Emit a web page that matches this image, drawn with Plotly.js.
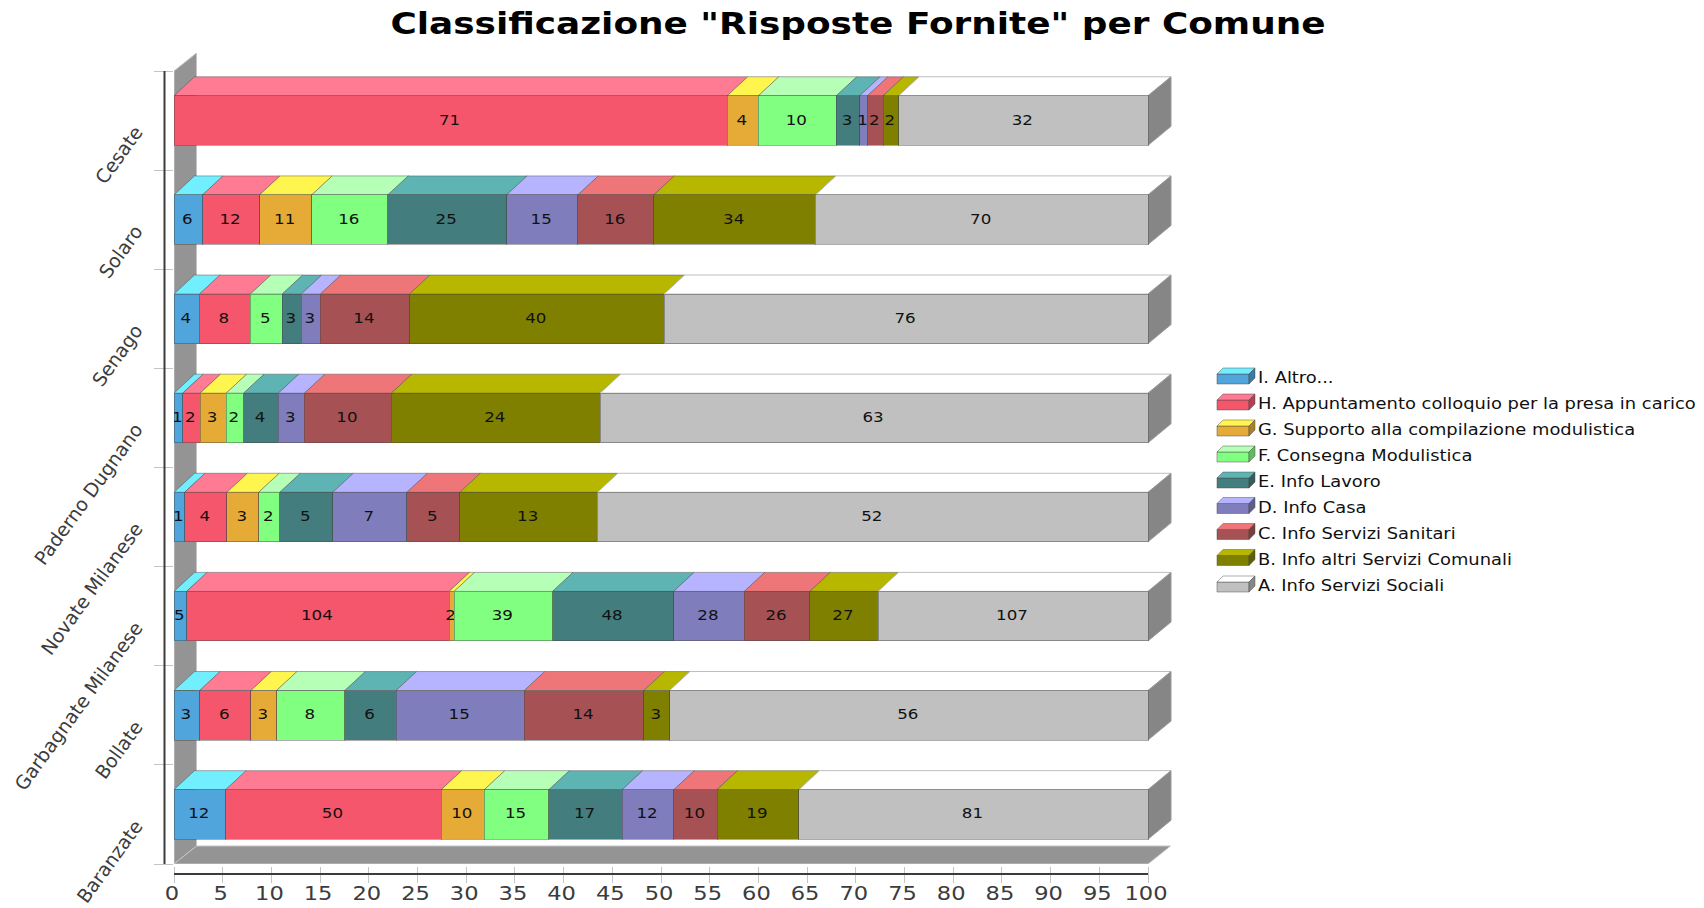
<!DOCTYPE html>
<html><head><meta charset="utf-8">
<script src="https://cdn.plot.ly/plotly-3.0.1.min.js"></script>
<style>html,body{margin:0;padding:0;background:#fff}#c{width:1704px;height:908px}</style>
</head><body><div id="c"></div>
<script>
const categories = ["Baranzate","Bollate","Garbagnate Milanese","Novate Milanese","Paderno Dugnano","Senago","Solaro","Cesate"];
const seriesNames = ["I. Altro...","H. Appuntamento colloquio per la presa in carico","G. Supporto alla compilazione modulistica","F. Consegna Modulistica","E. Info Lavoro","D. Info Casa","C. Info Servizi Sanitari","B. Info altri Servizi Comunali","A. Info Servizi Sociali"];
const altro     = [12, 3,   5, 1, 1, 4, 6, 0];
const colloquio = [50, 6, 104, 4, 2, 8,12,71];
const supporto  = [10, 3,   2, 3, 3, 0,11, 4];
const consegna  = [15, 8,  39, 2, 2, 5,16,10];
const lavoro    = [17, 6,  48, 5, 4, 3,25, 3];
const casa      = [12,15,  28, 7, 3, 3,15, 1];
const sanitari  = [10,14,  26, 5,10,14,16, 2];
const comunali  = [19, 3,  27,13,24,40,34, 2];
const sociali   = [81,56, 107,52,63,76,70,32];
const seriesValues = [altro,colloquio,supporto,consegna,lavoro,casa,sanitari,comunali,sociali];
const valueTicks = [0,5,10,15,20,25,30,35,40,45,50,55,60,65,70,75,80,85,90,95,100];

const frontColors = ["#4fa5dc","#f5566b","#e6ab37","#80ff80","#437d7d","#807dbc","#a65254","#808000","#c0c0c0"];
const topColors   = ["#72efff","#ff7a93","#fff54f","#b6ffb6","#5eb3b3","#b6b3ff","#ee7678","#b7b700","#ffffff"];
const sideColors  = ["#3a7aa3","#b54050","#ab7f29","#5fbd5f","#325d5d","#5f5d8b","#7b3d3e","#5f5f00","#868686"];

// page geometry
const L=174, R=1172, T=53, B=866, paneBottom=864, unitX=9.74, unitY=99.125;
const depthX=20.5/unitX, sideX=23/unitX, depthY=19/unitY, wallX=22.5/unitX, wallY=18/unitY, halfBar=0.25;
const px=x=>(x-L)/(R-L), py=y=>(B-y)/(B-T);
const outline="rgba(70,70,70,0.45)";

const traces = seriesNames.map((name,s)=>({
  type:"bar", orientation:"h", name,
  y:categories,
  x:seriesValues[s].map(v=>v>0?v:null),
  text:seriesValues[s].map(v=>v>0?String(v):""),
  textposition:"inside", insidetextanchor:"middle", textangle:0, constraintext:"none",
  textfont:{family:"DejaVu Sans",size:14.5,color:"#111"},
  marker:{color:frontColors[s],line:{color:outline,width:1}},
  hoverinfo:"name+x"
}));

const poly=(pts,fill,line)=>({type:"path",xref:"x",yref:"y",layer:"below",
  path:"M "+pts.map(p=>p[0].toFixed(3)+" "+p[1].toFixed(4)).join(" L ")+" Z",
  fillcolor:fill,line:{color:line,width:1}});

const shapes=[];
const topEdge=categories.length-0.5;
// walls
shapes.push(poly([[0,-0.5],[wallX,-0.5+wallY],[wallX,topEdge+wallY],[0,topEdge]],"#949494","#c4c4c4"));
shapes.push(poly([[0,-0.5],[100,-0.5],[100+wallX,-0.5+wallY],[wallX,-0.5+wallY]],"#949494","#c4c4c4"));
// 3D faces computed from the data
categories.forEach((c,i)=>{
  const total=seriesValues.reduce((a,sv)=>a+sv[i],0);
  let run=0;
  const last=seriesValues.length-1;
  seriesValues.forEach((sv,s)=>{
    if(sv[i]<=0) return;
    const a=run/total*100; run+=sv[i]; const b=run/total*100;
    const endDepth=s===last?sideX:depthX;
    shapes.push(poly([[a,i+halfBar],[b,i+halfBar],[b+endDepth,i+halfBar+depthY],[a+depthX,i+halfBar+depthY]],topColors[s],s===last?"#bdbdbd":outline));
    if(s===last)
      shapes.push(poly([[b,i-halfBar],[b+sideX,i-halfBar+depthY],[b+sideX,i+halfBar+depthY],[b,i+halfBar]],sideColors[s],"#9a9a9a"));
  });
});
// axis lines offset from the panes, as in the reference
shapes.push({type:"line",xref:"paper",yref:"y",x0:px(164.5),x1:px(164.5),y0:-0.5,y1:topEdge,line:{color:"#3c3c3c",width:2}});
shapes.push({type:"line",xref:"x",yref:"paper",x0:0,x1:100,y0:py(874),y1:py(874),line:{color:"#3c3c3c",width:2}});

// legend
const annotations=[];
const rowY=[378,404,430,456,482,507.5,533.5,559.5,586];
seriesNames.forEach((n,s)=>{
  const y=rowY[s], x0=1217, w=32, h=10, d=6, yb=y+6, yt=yb-h;
  const paperPoly=(pts,fill)=>({type:"path",xref:"paper",yref:"paper",
    path:"M "+pts.map(p=>px(p[0]).toFixed(5)+" "+py(p[1]).toFixed(5)).join(" L ")+" Z",
    fillcolor:fill,line:{color:"rgba(70,70,70,0.45)",width:1}});
  shapes.push(paperPoly([[x0,yt],[x0+w,yt],[x0+w,yb],[x0,yb]],frontColors[s]));
  shapes.push(paperPoly([[x0,yt],[x0+d,yt-d],[x0+w+d,yt-d],[x0+w,yt]],topColors[s]));
  shapes.push(paperPoly([[x0+w,yt],[x0+w+d,yt-d],[x0+w+d,yb-d],[x0+w,yb]],sideColors[s]));
  annotations.push({xref:"paper",yref:"paper",x:px(1257),y:py(y),xanchor:"left",yanchor:"middle",align:"left",showarrow:false,
    text:n,font:{family:"DejaVu Sans",size:15.5,color:"#111"},borderpad:0});
});

const layout={
  width:1704,height:908,autosize:false,
  paper_bgcolor:"#fff",plot_bgcolor:"#fff",
  margin:{l:L,r:1704-R,t:T,b:908-B,pad:0},
  barmode:"stack",barnorm:"percent",bargap:0.5,showlegend:false,
  title:{text:'Classificazione "Risposte Fornite" per Comune',x:858/1704,xanchor:"center",y:1-23/908,yanchor:"middle",
    font:{family:"DejaVu Sans",size:31,color:"#000",weight:"bold"}},
  xaxis:{range:[0,(R-L)/unitX],tickvals:valueTicks,ticktext:valueTicks.map(String),anchor:"free",position:0,
    ticks:"outside",ticklen:16,tickwidth:1,tickcolor:"#c4c4c4",showgrid:false,zeroline:false,showline:false,
    tickangle:0,ticklabelstandoff:-7,tickfont:{family:"DejaVu Sans",size:20,color:"#3c3c3c"}},
  yaxis:{type:"category",categoryorder:"array",categoryarray:categories,
    domain:[(B-paneBottom)/(B-T),1],range:[-0.5,topEdge+wallY],
    tickson:"boundaries",ticks:"outside",ticklen:19,tickwidth:1,tickcolor:"#c4c4c4",showgrid:false,zeroline:false,showline:false,
    tickangle:-54,ticklabelstandoff:4,tickfont:{family:"DejaVu Sans",size:19,color:"#3c3c3c"}},
  shapes,annotations
};
// The reference's lettering is wider than DejaVu's natural proportions: stretch the real text horizontally.
function stretch(sel,k,before){
  document.querySelectorAll(sel).forEach(t=>{
    const x=parseFloat(t.getAttribute("x"))||0, cur=t.getAttribute("transform")||"";
    t.setAttribute("transform",(before||"")+" "+cur+` translate(${x},0) scale(${k},1) translate(${-x},0)`);
  });
}
Plotly.newPlot("c",traces,layout,{displayModeBar:false,staticPlot:true}).then(()=>{
  stretch(".gtitle",1.157);
  stretch(".annotation-text",1.155);
  stretch(".xtick text",1.13,"translate(-2,0)");
  stretch(".bartext",1.15,"translate(-1,-1)");
  document.querySelectorAll(".ytick text").forEach(t=>{
    t.setAttribute("transform","translate(-33,9) "+(t.getAttribute("transform")||""));
  });
});
</script></body></html>
